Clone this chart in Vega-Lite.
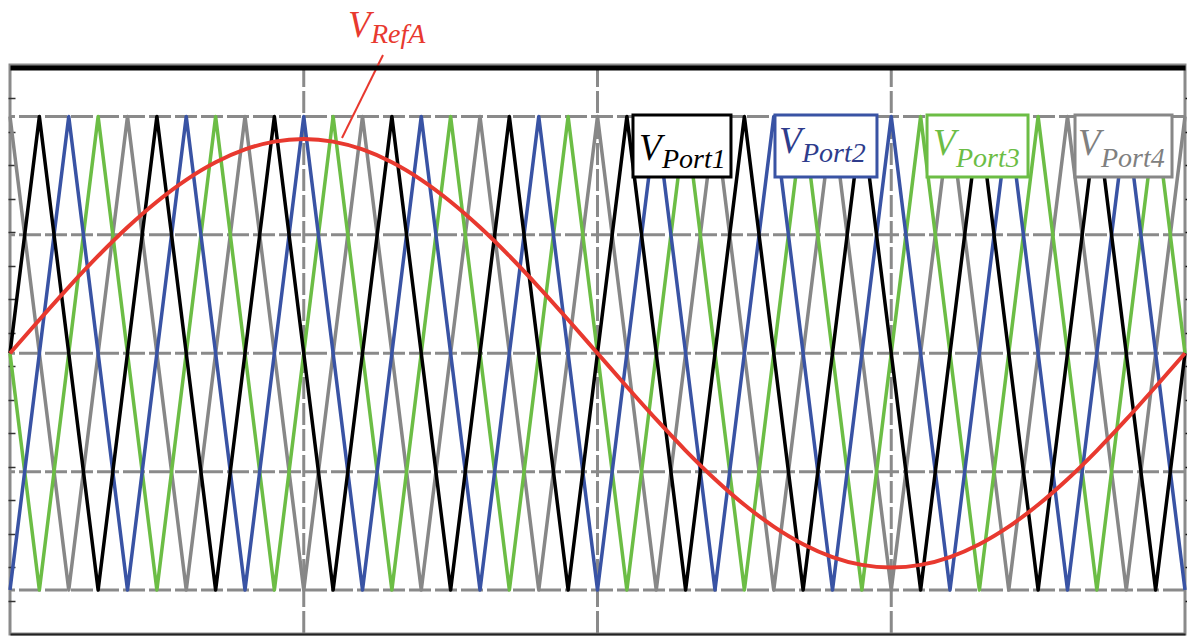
{
  "$schema": "https://vega.github.io/schema/vega-lite/v6.json",
  "width": 1175,
  "height": 569,
  "autosize": {"type": "none"},
  "padding": {"left": 10, "top": 65, "right": 2, "bottom": 3},
  "background": "white",
  "config": {"view": {"stroke": "#8a8a8a", "strokeWidth": 3}},
  "datasets": {
    "hgrid": [{"v": -1}, {"v": -0.5}, {"v": 0}, {"v": 0.5}, {"v": 1}],
    "vgrid": [{"t": 5}, {"t": 10}, {"t": 15}],
    "gray": [{"t":0,"v":1},{"t":1,"v":-1},{"t":2,"v":1},{"t":3,"v":-1},{"t":4,"v":1},{"t":5,"v":-1},{"t":6,"v":1},{"t":7,"v":-1},{"t":8,"v":1},{"t":9,"v":-1},{"t":10,"v":1},{"t":11,"v":-1},{"t":12,"v":1},{"t":13,"v":-1},{"t":14,"v":1},{"t":15,"v":-1},{"t":16,"v":1},{"t":17,"v":-1},{"t":18,"v":1},{"t":19,"v":-1},{"t":20,"v":1}],
    "blue": [{"t":0,"v":-1},{"t":1,"v":1},{"t":2,"v":-1},{"t":3,"v":1},{"t":4,"v":-1},{"t":5,"v":1},{"t":6,"v":-1},{"t":7,"v":1},{"t":8,"v":-1},{"t":9,"v":1},{"t":10,"v":-1},{"t":11,"v":1},{"t":12,"v":-1},{"t":13,"v":1},{"t":14,"v":-1},{"t":15,"v":1},{"t":16,"v":-1},{"t":17,"v":1},{"t":18,"v":-1},{"t":19,"v":1},{"t":20,"v":-1}],
    "black": [{"t":0,"v":0},{"t":0.5,"v":1},{"t":1.5,"v":-1},{"t":2.5,"v":1},{"t":3.5,"v":-1},{"t":4.5,"v":1},{"t":5.5,"v":-1},{"t":6.5,"v":1},{"t":7.5,"v":-1},{"t":8.5,"v":1},{"t":9.5,"v":-1},{"t":10.5,"v":1},{"t":11.5,"v":-1},{"t":12.5,"v":1},{"t":13.5,"v":-1},{"t":14.5,"v":1},{"t":15.5,"v":-1},{"t":16.5,"v":1},{"t":17.5,"v":-1},{"t":18.5,"v":1},{"t":19.5,"v":-1},{"t":20,"v":0}],
    "green": [{"t":0,"v":0},{"t":0.5,"v":-1},{"t":1.5,"v":1},{"t":2.5,"v":-1},{"t":3.5,"v":1},{"t":4.5,"v":-1},{"t":5.5,"v":1},{"t":6.5,"v":-1},{"t":7.5,"v":1},{"t":8.5,"v":-1},{"t":9.5,"v":1},{"t":10.5,"v":-1},{"t":11.5,"v":1},{"t":12.5,"v":-1},{"t":13.5,"v":1},{"t":14.5,"v":-1},{"t":15.5,"v":1},{"t":16.5,"v":-1},{"t":17.5,"v":1},{"t":18.5,"v":-1},{"t":19.5,"v":1},{"t":20,"v":0}],
    "ref": [{"t":0,"v":0},{"t":0.5,"v":0.1416},{"t":1,"v":0.2797},{"t":1.5,"v":0.4109},{"t":2,"v":0.532},{"t":2.5,"v":0.6399},{"t":3,"v":0.7322},{"t":3.5,"v":0.8064},{"t":4,"v":0.8607},{"t":4.5,"v":0.8939},{"t":5,"v":0.905},{"t":5.5,"v":0.8939},{"t":6,"v":0.8607},{"t":6.5,"v":0.8064},{"t":7,"v":0.7322},{"t":7.5,"v":0.6399},{"t":8,"v":0.532},{"t":8.5,"v":0.4109},{"t":9,"v":0.2797},{"t":9.5,"v":0.1416},{"t":10,"v":0},{"t":10.5,"v":-0.1416},{"t":11,"v":-0.2797},{"t":11.5,"v":-0.4109},{"t":12,"v":-0.532},{"t":12.5,"v":-0.6399},{"t":13,"v":-0.7322},{"t":13.5,"v":-0.8064},{"t":14,"v":-0.8607},{"t":14.5,"v":-0.8939},{"t":15,"v":-0.905},{"t":15.5,"v":-0.8939},{"t":16,"v":-0.8607},{"t":16.5,"v":-0.8064},{"t":17,"v":-0.7322},{"t":17.5,"v":-0.6399},{"t":18,"v":-0.532},{"t":18.5,"v":-0.4109},{"t":19,"v":-0.2797},{"t":19.5,"v":-0.1416},{"t":20,"v":0}],
    "labels": [
      {"p":"Port1","x0":10.604,"x1":12.272,"y0":1.0063,"y1":0.7444,"vx":10.706,"vy":0.8162,"sx":11.098,"sy":0.7824},
      {"p":"Port2","x0":13.021,"x1":14.757,"y0":1.0063,"y1":0.7444,"vx":13.089,"vy":0.8458,"sx":13.481,"sy":0.8078},
      {"p":"Port3","x0":15.609,"x1":17.328,"y0":1.0063,"y1":0.7444,"vx":15.711,"vy":0.8374,"sx":16.102,"sy":0.7867},
      {"p":"Port4","x0":18.128,"x1":19.779,"y0":1.0063,"y1":0.7444,"vx":18.179,"vy":0.8374,"sx":18.570,"sy":0.7867}
    ],
    "refLabel": [{"vx":5.753,"vy":1.3358,"sx":6.145,"sy":1.3104,"sub":"RefA","t":6.349,"v":1.2597,"t2":5.651,"v2":0.9092}]
  },
  "layer": [
    {
      "data": {"name": "hgrid"},
      "mark": {"type": "rule", "color": "#8a8a8a", "strokeWidth": 3, "strokeDash": [22, 4]},
      "encoding": {
        "y": {"field": "v", "type": "quantitative", "title": null,
          "scale": {"domain": [-1.1858, 1.2175], "nice": false, "zero": false},
          "axis": {"orient": "left", "offset": -5, "values": [-1.0444,-0.9031,-0.7617,-0.6203,-0.479,-0.3376,-0.1962,-0.0549,0.0865,0.2279,0.3693,0.5106,0.652,0.7934,0.9347,1.0761],
            "labels": false, "domain": false, "grid": false, "tickSize": 7, "tickColor": "#333333", "tickWidth": 1.5, "title": null}}
      }
    },
    {
      "data": {"name": "vgrid"},
      "mark": {"type": "rule", "color": "#8a8a8a", "strokeWidth": 3, "strokeDash": [22, 4]},
      "encoding": {
        "x": {"field": "t", "type": "quantitative", "title": null,
          "scale": {"domain": [0, 20], "nice": false, "zero": false},
          "axis": {"orient": "top", "offset": -2.5, "labels": false, "ticks": false, "grid": false, "domain": true, "domainColor": "#000000", "domainWidth": 5, "zindex": 1, "title": null}}
      }
    },
    {
      "data": {"name": "gray"},
      "mark": {"type": "line", "color": "#878787", "strokeWidth": 3.5, "strokeJoin": "round"},
      "encoding": {
        "x": {"field": "t", "type": "quantitative", "title": null,
          "axis": {"orient": "bottom", "labels": false, "ticks": false, "grid": false, "domain": true, "domainColor": "#222222", "domainWidth": 2, "title": null}},
        "y": {"field": "v", "type": "quantitative", "title": null,
          "axis": {"orient": "right", "values": [-1.0444,-0.9031,-0.7617,-0.6203,-0.479,-0.3376,-0.1962,-0.0549,0.0865,0.2279,0.3693,0.5106,0.652,0.7934,0.9347,1.0761],
            "labels": false, "domain": false, "grid": false, "tickSize": 4, "tickColor": "#111111", "tickWidth": 1.5, "title": null}}
      }
    },
    {
      "data": {"name": "green"},
      "mark": {"type": "line", "color": "#6cbd45", "strokeWidth": 3.5, "strokeJoin": "round"},
      "encoding": {
        "x": {"field": "t", "type": "quantitative", "axis": null},
        "y": {"field": "v", "type": "quantitative", "axis": null}
      }
    },
    {
      "data": {"name": "blue"},
      "mark": {"type": "line", "color": "#3953a4", "strokeWidth": 3.5, "strokeJoin": "round"},
      "encoding": {
        "x": {"field": "t", "type": "quantitative", "axis": null},
        "y": {"field": "v", "type": "quantitative", "axis": null}
      }
    },
    {
      "data": {"name": "black"},
      "mark": {"type": "line", "color": "#000000", "strokeWidth": 3.5, "strokeJoin": "round"},
      "encoding": {
        "x": {"field": "t", "type": "quantitative", "axis": null},
        "y": {"field": "v", "type": "quantitative", "axis": null}
      }
    },
    {
      "data": {"name": "ref"},
      "mark": {"type": "line", "color": "#e8392f", "strokeWidth": 4, "interpolate": "monotone"},
      "encoding": {
        "x": {"field": "t", "type": "quantitative", "axis": null},
        "y": {"field": "v", "type": "quantitative", "axis": null}
      }
    },
    {
      "data": {"name": "labels"},
      "mark": {"type": "rect", "fill": "white", "strokeWidth": 3},
      "encoding": {
        "x": {"field": "x0", "type": "quantitative", "axis": null},
        "x2": {"field": "x1"},
        "y": {"field": "y0", "type": "quantitative", "axis": null},
        "y2": {"field": "y1"},
        "stroke": {"field": "p", "type": "nominal", "legend": null,
          "scale": {"domain": ["Port1", "Port2", "Port3", "Port4"], "range": ["#000000", "#3953a4", "#6cbd45", "#878787"]}}
      }
    },
    {
      "data": {"name": "labels"},
      "mark": {"type": "text", "text": "V", "font": "Liberation Serif", "fontStyle": "italic", "fontSize": 37, "align": "left", "baseline": "alphabetic"},
      "encoding": {
        "x": {"field": "vx", "type": "quantitative", "axis": null},
        "y": {"field": "vy", "type": "quantitative", "axis": null},
        "fill": {"field": "p", "type": "nominal", "legend": null,
          "scale": {"domain": ["Port1", "Port2", "Port3", "Port4"], "range": ["#000000", "#2e3c8c", "#6cbd45", "#808080"]}}
      }
    },
    {
      "data": {"name": "labels"},
      "mark": {"type": "text", "font": "Liberation Serif", "fontStyle": "italic", "fontSize": 28, "align": "left", "baseline": "alphabetic"},
      "encoding": {
        "x": {"field": "sx", "type": "quantitative", "axis": null},
        "y": {"field": "sy", "type": "quantitative", "axis": null},
        "text": {"field": "p"},
        "fill": {"field": "p", "type": "nominal", "legend": null}
      }
    },
    {
      "data": {"name": "refLabel"},
      "mark": {"type": "rule", "color": "#e8392f", "strokeWidth": 2},
      "encoding": {
        "x": {"field": "t", "type": "quantitative", "axis": null},
        "y": {"field": "v", "type": "quantitative", "axis": null},
        "x2": {"field": "t2"},
        "y2": {"field": "v2"}
      }
    },
    {
      "data": {"name": "refLabel"},
      "mark": {"type": "text", "text": "V", "font": "Liberation Serif", "fontStyle": "italic", "fontSize": 37, "align": "left", "baseline": "alphabetic", "color": "#e8392f"},
      "encoding": {
        "x": {"field": "vx", "type": "quantitative", "axis": null},
        "y": {"field": "vy", "type": "quantitative", "axis": null}
      }
    },
    {
      "data": {"name": "refLabel"},
      "mark": {"type": "text", "font": "Liberation Serif", "fontStyle": "italic", "fontSize": 28, "align": "left", "baseline": "alphabetic", "color": "#e8392f"},
      "encoding": {
        "x": {"field": "sx", "type": "quantitative", "axis": null},
        "y": {"field": "sy", "type": "quantitative", "axis": null},
        "text": {"field": "sub"}
      }
    }
  ]
}
